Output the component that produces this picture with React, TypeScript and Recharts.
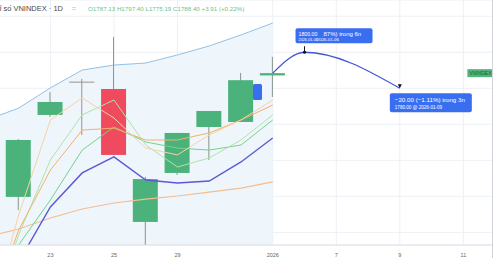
import React from "react";
import {
  Area,
  Bar,
  CartesianGrid,
  ComposedChart,
  Line,
  ReferenceDot,
  XAxis,
  YAxis,
} from "recharts";

// trading days, first slot is the one just off the left edge
const days = ["19", "22", "23", "24", "25", "26", "29", "30", "31", "2026", "6", "7", "8", "9", "10", "11", "12"];
const shownTicks = ["23", "25", "29", "2026", "7", "9", "11"];

const openP = [null, 1719.7, 1765.2, 1783.4, 1779.6, 1705.8, 1733.0, 1758.5, 1761.3, 1787.13, null, null, null, null, null, null, null];
const highP = [null, 1751.8, 1777.9, 1785.2, 1808.5, 1730.8, 1755.2, 1767.4, 1788.5, 1797.4, null, null, null, null, null, null, null];
const lowP = [null, 1712.4, 1764.0, 1754.1, 1743.0, 1692.0, 1731.9, 1740.2, 1761.3, 1775.19, null, null, null, null, null, null, null];
const closeP = [null, 1751.3, 1772.4, 1783.4, 1743.0, 1729.6, 1755.2, 1767.4, 1784.49, 1788.4, null, null, null, null, null, null, null];

const upperBand = [1762.4, 1769.0, 1780.2, 1790.1, 1792.9, 1794.0, 1798.5, 1803.5, 1809.6, 1816.2];
const maPeach = [1645.8, 1709.7, 1762.4, 1774.6, 1763.5, 1746.8, 1743.0, 1754.1, 1762.4, 1773.5];
const maOrange = [1651.4, 1701.3, 1734.6, 1756.8, 1757.9, 1751.3, 1751.3, 1755.2, 1762.4, 1770.7];
const maLightGreen = [1645.8, 1698.6, 1740.2, 1765.2, 1773.5, 1748.5, 1736.3, 1741.3, 1751.3, 1765.2];
const maGreen = [1640.3, 1693.0, 1718.0, 1745.7, 1758.5, 1750.2, 1746.8, 1745.7, 1748.5, 1762.4];
const maPurple = [1651.4, 1683.6, 1714.1, 1733.0, 1741.9, 1729.1, 1727.4, 1728.5, 1739.1, 1752.4];
const maTan = [1697.4, 1701.9, 1708.0, 1713.0, 1716.3, 1718.5, 1720.2, 1722.4, 1724.6, 1728.0];

// projected path: last close -> target -> pullback
const projection = [null, null, null, null, null, null, null, null, null, 1788.4, 1800, null, null, 1780, null, null, null];

const gridPrices = [1700, 1710, 1720, 1730, 1740, 1750, 1760, 1770, 1780, 1790, 1800, 1810, 1820];

const data = days.map((d, i) => ({
  d,
  open: openP[i],
  high: highP[i],
  low: lowP[i],
  close: closeP[i],
  upper: upperBand[i] ?? null,
  peach: maPeach[i] ?? null,
  orange: maOrange[i] ?? null,
  lgreen: maLightGreen[i] ?? null,
  green: maGreen[i] ?? null,
  purple: maPurple[i] ?? null,
  tan: maTan[i] ?? null,
  proj: projection[i],
}));

const UP = "#4cb27c";
const DOWN = "#ef4a5e";
const BLUE = "#3a6ef0";
const FONT = "'Liberation Sans', Arial, sans-serif";

function Candle(props: any) {
  const { x, y, width, height, payload } = props;
  if (payload == null || payload.open == null) return null;
  const { open, close, high, low } = payload;
  const top = height < 0 ? y + height : y;
  const h = Math.abs(height);
  const ratio = h / (high - low);
  const yOf = (v: number) => top + (high - v) * ratio;
  const cx = x + width / 2;
  const doji = open === close;
  const color = doji ? "#9b918a" : close > open ? UP : DOWN;
  const bTop = yOf(Math.max(open, close));
  const bBot = yOf(Math.min(open, close));
  return (
    <g>
      <line x1={cx} x2={cx} y1={yOf(high)} y2={yOf(low)} stroke={doji ? color : "#86958c"} strokeWidth={1} />
      {doji ? (
        <line x1={x} x2={x + width} y1={bTop} y2={bTop} stroke={color} strokeWidth={1} />
      ) : (
        <rect x={x} y={bTop} width={width} height={Math.max(1, bBot - bTop)} fill={color} />
      )}
    </g>
  );
}

function ProjDot(props: any) {
  const { cx, cy, index } = props;
  if (index === 10) {
    return (
      <g key={`pd${index}`}>
        <line x1={cx} x2={cx} y1={cy - 6} y2={cy} stroke="#111" strokeWidth={1} />
        <circle cx={cx} cy={cy} r={1.6} fill="#111" />
      </g>
    );
  }
  if (index === 13) {
    return <path key={`pd${index}`} d={`M${cx - 2},${cy - 4} L${cx + 2},${cy - 4} L${cx},${cy} Z`} fill="#111" />;
  }
  return <g key={`pd${index}`} />;
}

function TargetBox(props: any) {
  const { cx, cy } = props;
  return (
    <g fontFamily={FONT}>
      <rect x={cx - 9} y={cy - 24} width={77} height={15} rx={2} fill={BLUE} />
      <text x={cx - 6} y={cy - 16.5} fontSize={5.2} fill="#fff">1800.00</text>
      <text x={cx + 19} y={cy - 16.5} fontSize={6} fill="#fff">87%) trong 6n</text>
      <text x={cx - 6} y={cy - 11} fontSize={3.8} fill="#fff">2026-01-06</text>
      <text x={cx + 12} y={cy - 11} fontSize={4.4} fill="#fff">2026-01-06</text>
    </g>
  );
}

function PullbackBox(props: any) {
  const { cx, cy } = props;
  return (
    <g fontFamily={FONT}>
      <rect x={cx - 10} y={cy + 5} width={82} height={19} rx={2} fill={BLUE} />
      <text x={cx - 5} y={cy + 14} fontSize={6.2} fill="#fff">−20.00 (−1.11%) trong 3n</text>
      <text x={cx - 5} y={cy + 20.5} fontSize={4.6} fill="#fff">1780.00 @ 2026-01-09</text>
    </g>
  );
}

function HiddenBox(props: any) {
  const { cx, cy } = props;
  return <rect x={cx + 12} y={cy - 8} width={9} height={16} rx={1.5} fill={BLUE} />;
}

function PriceTag(props: any) {
  const { cx, cy } = props;
  return (
    <g fontFamily={FONT}>
      <rect x={cx + 4} y={cy - 4} width={26} height={8} fill="#52b67a" />
      <text x={cx + 17} y={cy + 2} fontSize={5} fill="#1f5e36" textAnchor="middle">VNINDEX</text>
    </g>
  );
}

export default function App() {
  return (
    <div style={{ position: "absolute", left: 0, top: 0, width: 497, height: 261, overflow: "hidden", background: "#fff" }}>
      <div style={{ position: "absolute", left: 0, top: 0, width: 492, height: 261, overflow: "hidden" }}>
        <div style={{ position: "absolute", left: -29, top: 0 }}>
          <ComposedChart width={540} height={261} data={data} margin={{ top: 0, right: 0, left: 0, bottom: 0 }}>
            <CartesianGrid stroke="#edf0f5" strokeWidth={1} />
            <XAxis
              dataKey="d"
              ticks={shownTicks}
              interval={0}
              height={16}
              axisLine={{ stroke: "#dcdfe6" }}
              tickLine={false}
              tick={{ fill: "#666", fontSize: 5.5, fontFamily: FONT }}
            />
            <YAxis hide type="number" domain={[1693, 1829]} ticks={gridPrices} allowDataOverflow />
            <Area
              type="linear"
              dataKey="upper"
              baseValue={1600}
              stroke="#92c1e6"
              strokeWidth={1}
              fill="#ebf4fc"
              fillOpacity={0.85}
              isAnimationActive={false}
              dot={false}
              activeDot={false}
            />
            <Line type="linear" dataKey="tan" stroke="#f4bd92" strokeWidth={1.2} dot={false} isAnimationActive={false} />
            <Line type="linear" dataKey="purple" stroke="#5d59d3" strokeWidth={1.4} dot={false} isAnimationActive={false} />
            <Line type="linear" dataKey="green" stroke="#74d28c" strokeWidth={1} dot={false} isAnimationActive={false} />
            <Line type="linear" dataKey="lgreen" stroke="#aee5a6" strokeWidth={1} dot={false} isAnimationActive={false} />
            <Line type="linear" dataKey="orange" stroke="#f5b06a" strokeWidth={1} dot={false} isAnimationActive={false} />
            <Line type="linear" dataKey="peach" stroke="#f9d1a2" strokeWidth={1} dot={false} isAnimationActive={false} />
            <Line
              type="monotone"
              dataKey="proj"
              stroke="#4354d4"
              strokeWidth={1.3}
              connectNulls
              dot={ProjDot}
              isAnimationActive={false}
            />
            <ReferenceDot x="31" y={1777.9} r={0} shape={HiddenBox} />
            <Bar
              dataKey={(e: any) => (e.low == null ? null : [e.low, e.high])}
              barSize={25}
              shape={Candle}
              isAnimationActive={false}
            />
            <ReferenceDot x="6" y={1800} r={0} shape={TargetBox} />
            <ReferenceDot x="9" y={1780} r={0} shape={PullbackBox} />
            <ReferenceDot x="11" y={1788.4} r={0} shape={PriceTag} />
          </ComposedChart>
        </div>
      </div>
      <svg width={497} height={261} style={{ position: "absolute", left: 0, top: 0, pointerEvents: "none" }}>
        <text x={63} y={10.5} textAnchor="end" fontSize={7.5} fill="#4a4a4a" fontFamily={FONT}>
          Chỉ số VNINDEX · 1D
        </text>
        <text x={72} y={10.5} fontSize={7} fill="#b0b0b0" fontFamily={FONT}>=</text>
        <text x={88} y={10.5} fontSize={6.2} fill="#6cbf8c" fontFamily={FONT}>
          O1787.13 H1797.40 L1775.19 C1788.40 +3.91 (+0.22%)
        </text>
        <line x1={492.5} y1={0} x2={492.5} y2={258} stroke="#cfd3da" strokeWidth={1} />
      </svg>
    </div>
  );
}
